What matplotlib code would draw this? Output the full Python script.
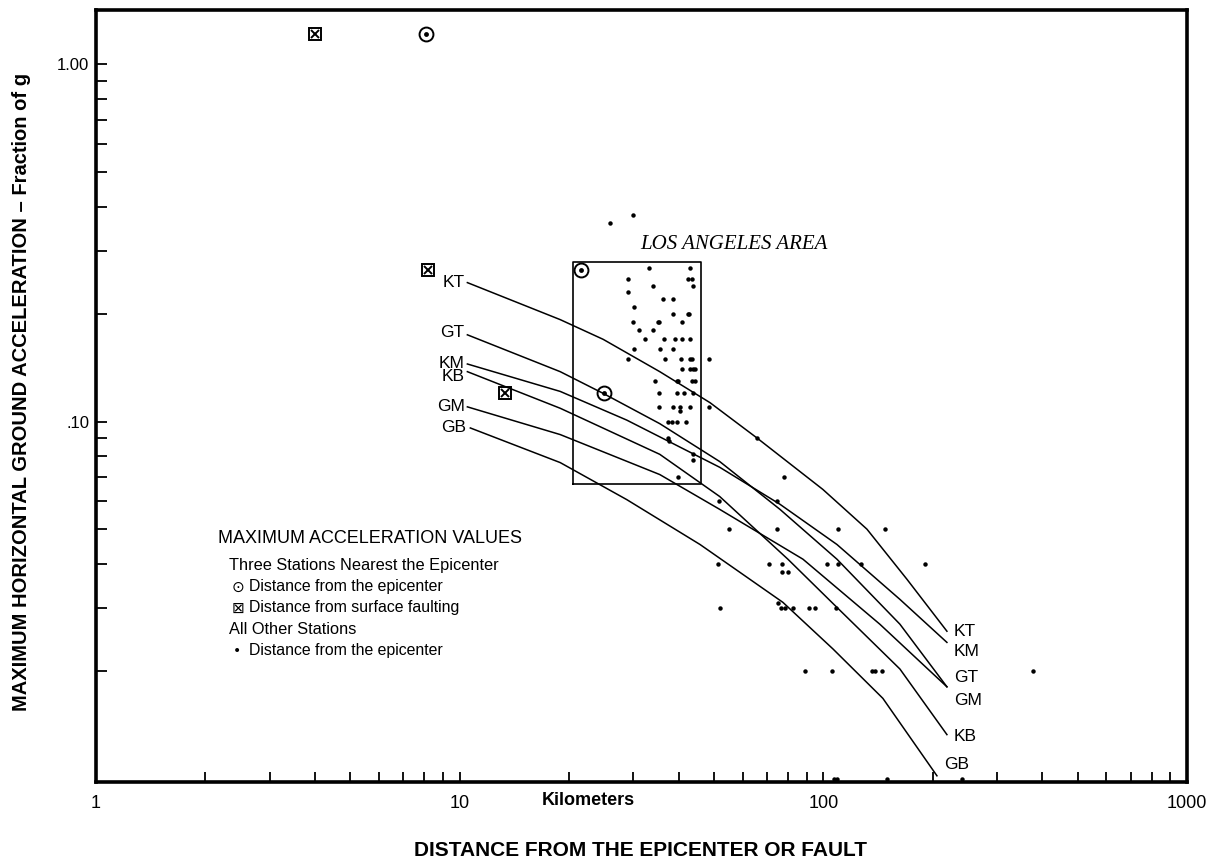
import matplotlib
matplotlib.use('Agg')
import matplotlib.pyplot as plt
import numpy as np

# attenuation curves (distance km, acceleration g)
kt_x = [10.5, 18.9, 24.8, 35.5, 48.8, 65.7, 99.7, 131.8, 169.8, 218.7]
kt_y = [0.245, 0.193, 0.170, 0.138, 0.113, 0.090, 0.0646, 0.050, 0.0362, 0.0259]
gt_x = [10.5, 18.9, 24.8, 35.5, 51.9, 76.0, 109.0, 162.4, 218.7]
gt_y = [0.175, 0.138, 0.120, 0.0987, 0.0773, 0.0568, 0.0412, 0.0271, 0.0181]
km_x = [10.5, 18.9, 28.8, 51.9, 76.0, 109.0, 162.4, 218.7]
km_y = [0.145, 0.1215, 0.101, 0.0745, 0.0587, 0.0453, 0.0318, 0.0241]
kb_x = [10.5, 18.9, 35.5, 51.9, 79.9, 109.0, 162.4, 218.7]
kb_y = [0.138, 0.109, 0.081, 0.0617, 0.0412, 0.0302, 0.0203, 0.0133]
gm_x = [10.5, 18.9, 35.5, 51.9, 87.9, 143.0, 218.7]
gm_y = [0.110, 0.092, 0.0711, 0.0568, 0.0412, 0.0271, 0.0181]
gb_x = [10.7, 18.9, 28.8, 45.8, 62.8, 77.4, 106.3, 145.8, 205.3]
gb_y = [0.096, 0.0768, 0.0605, 0.0453, 0.0362, 0.0312, 0.0231, 0.0168, 0.0102]

# three stations nearest the epicenter
epi_x = [8.1, 21.6, 24.9]
epi_y = [1.22, 0.265, 0.12]
fault_x = [4.0, 8.2, 13.3]
fault_y = [1.22, 0.265, 0.12]

# all other stations
dot_x = [25.9, 30.0,
         33.2, 43.0, 29.0, 42.4, 43.5, 34.0, 43.8, 29.0, 36.2, 38.6, 30.2, 42.4, 42.7,
         35.3, 35.1, 38.6, 30.0, 40.9, 31.1, 34.0, 32.3, 36.5, 39.1, 40.9, 43.0,
         30.2, 35.5, 38.6, 43.0, 43.5, 29.0, 36.7, 40.6, 43.8, 44.4, 40.9, 43.0, 48.5,
         34.4, 39.6, 39.8, 43.5, 44.4, 35.3, 39.6, 41.4, 43.8, 35.3, 38.6, 40.3, 40.3,
         43.0, 48.5, 37.4, 38.3, 39.6, 41.9, 37.4, 37.6, 43.8, 43.8, 39.8,
         65.7, 77.9, 51.6, 74.5, 55.0, 74.5, 109.7, 147.7,
         51.3, 70.9, 76.9, 102.3, 109.7, 126.9, 190.2, 77.0, 80.0,
         51.9, 75.0, 76.5, 78.5, 82.5, 91.3, 95.0, 108.3,
         89.0, 105.6, 136.0, 138.7, 144.9, 376.9,
         107.0, 109.0, 150.0, 240.0]
dot_y = [0.36, 0.38,
         0.27, 0.27, 0.25, 0.25, 0.25, 0.24, 0.24, 0.23, 0.22, 0.22, 0.21, 0.20, 0.20,
         0.19, 0.19, 0.20, 0.19, 0.19, 0.18, 0.18, 0.17, 0.17, 0.17, 0.17, 0.17,
         0.16, 0.16, 0.16, 0.15, 0.15, 0.15, 0.15, 0.15, 0.14, 0.14, 0.14, 0.14, 0.15,
         0.13, 0.13, 0.13, 0.13, 0.13, 0.12, 0.12, 0.12, 0.12, 0.11, 0.11, 0.11, 0.107,
         0.11, 0.11, 0.10, 0.10, 0.10, 0.10, 0.09, 0.088, 0.081, 0.078, 0.07,
         0.09, 0.07, 0.06, 0.06, 0.05, 0.05, 0.05, 0.05,
         0.04, 0.04, 0.04, 0.04, 0.04, 0.04, 0.04, 0.038, 0.038,
         0.03, 0.031, 0.03, 0.03, 0.03, 0.03, 0.03, 0.03,
         0.02, 0.02, 0.02, 0.02, 0.02, 0.02,
         0.01, 0.01, 0.01, 0.01]

# Los Angeles area box
la_x = [20.5, 46.1]
la_y = [0.0671, 0.28]

curve_names = ['KT', 'GT', 'KM', 'KB', 'GM', 'GB']

sans = ['Liberation Sans', 'DejaVu Sans']

fig = plt.figure(figsize=(12.32, 8.6), dpi=100)
ax = fig.add_axes([96 / 1232, 1 - 782 / 860, 1091 / 1232, 772 / 860])
ax.set_xscale('log')
ax.set_yscale('log')
ax.set_xlim(1, 1000)
ax.set_ylim(0.0098, 1.42)

curves = [(kt_x, kt_y), (gt_x, gt_y), (km_x, km_y), (kb_x, kb_y), (gm_x, gm_y), (gb_x, gb_y)]
# label offsets in points (KT, GT, KM, KB, GM, GB)
left_off = [(-2, 0), (-2, 1.5), (-2, 0.5), (-2, -3.5), (-2, 0.5), (-3, 0)]
right_off = [(5, 0), (5, 7), (5, -6.5), (5, -1.5), (5, -10), (5, 8)]
for name, (cx, cy), lo, ro in zip(curve_names, curves, left_off, right_off):
    ax.plot(cx, cy, color='black', lw=1.1, solid_joinstyle='round')
    ax.annotate(name, (cx[0], cy[0]), xytext=lo, textcoords='offset points',
                ha='right', va='center', fontsize=12.5, family=sans)
    ax.annotate(name, (cx[-1], cy[-1]), xytext=ro, textcoords='offset points',
                ha='left', va='center', fontsize=12.5, family=sans)

ax.plot(dot_x, dot_y, 'o', color='black', ms=3.2, mew=0, clip_on=False)

ax.plot(epi_x, epi_y, 'o', mfc='none', mec='black', ms=10, mew=1.4)
ax.plot(epi_x, epi_y, 'o', color='black', ms=3.5, mew=0)
ax.plot(fault_x, fault_y, 's', mfc='none', mec='black', ms=8.5, mew=1.4)
ax.plot(fault_x, fault_y, 'x', color='black', ms=5.5, mew=1.4)

ax.plot([la_x[0], la_x[1], la_x[1], la_x[0], la_x[0]],
        [la_y[0], la_y[0], la_y[1], la_y[1], la_y[0]], color='black', lw=1.2)
ax.text(31.3, 0.314, 'LOS ANGELES AREA', fontsize=15, style='italic',
        family=['Liberation Serif', 'DejaVu Serif'], ha='left', va='center')

# legend block
lx = (218 - 96) / 1091
ix = (229 - 96) / 1091
tx = (249 - 96) / 1091
ax.text(lx, 0.316, 'MAXIMUM ACCELERATION VALUES', transform=ax.transAxes,
        fontsize=13, family=sans, va='center')
ax.text(ix, 0.281, 'Three Stations Nearest the Epicenter', transform=ax.transAxes,
        fontsize=11.8, family=sans, va='center')
ax.text(ix + 0.002, 0.2526, '\u2299', transform=ax.transAxes, fontsize=11,
        family=['DejaVu Sans'], va='center')
ax.text(tx, 0.2526, 'Distance from the epicenter', transform=ax.transAxes,
        fontsize=11.4, family=sans, va='center')
ax.text(ix + 0.002, 0.2254, '\u22a0', transform=ax.transAxes, fontsize=11,
        family=['DejaVu Sans'], va='center')
ax.text(tx, 0.2254, 'Distance from surface faulting', transform=ax.transAxes,
        fontsize=11.4, family=sans, va='center')
ax.text(ix, 0.1969, 'All Other Stations', transform=ax.transAxes,
        fontsize=11.8, family=sans, va='center')
ax.text(ix + 0.004, 0.1697, '\u2022', transform=ax.transAxes, fontsize=10,
        family=['DejaVu Sans'], va='center')
ax.text(tx, 0.1697, 'Distance from the epicenter', transform=ax.transAxes,
        fontsize=11.4, family=sans, va='center')

# axes styling
for s in ax.spines.values():
    s.set_linewidth(2.6)
ax.set_xticks([1, 10, 100, 1000])
ax.set_xticklabels(['1', '10', '100', '1000'], family=sans, fontsize=13)
ax.set_yticks([0.1, 1.0])
ax.set_yticklabels(['.10', '1.00'], family=sans, fontsize=12)
ax.tick_params(axis='both', which='both', direction='in', top=False, right=False)
ax.tick_params(axis='x', which='both', length=7, width=1.3, pad=9)
ax.tick_params(axis='y', which='both', length=8, width=1.3, pad=5)
ax.text(0.451, -0.024, 'Kilometers', transform=ax.transAxes, fontsize=13,
        fontweight='bold', family=sans, ha='center', va='center')

fig.text(641 / 1232, 1 - 851 / 860, 'DISTANCE FROM THE EPICENTER OR FAULT',
         fontsize=15, fontweight='bold', family=sans, ha='center', va='center')
fig.text(22 / 1232, 1 - 392 / 860,
         'MAXIMUM HORIZONTAL GROUND ACCELERATION \u2013 Fraction of g',
         fontsize=14.5, fontweight='bold', family=sans, ha='center', va='center',
         rotation=90)

fig.savefig('out.png', dpi=100)
